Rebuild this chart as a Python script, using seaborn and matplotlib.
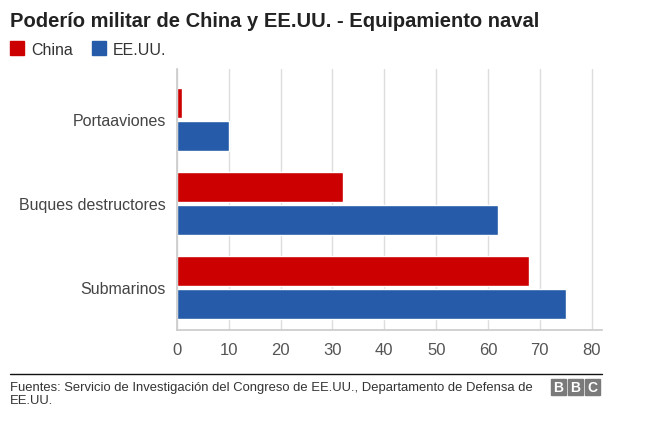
import numpy as np
import pandas as pd
import seaborn as sns
import matplotlib.pyplot as plt
from matplotlib.patches import Rectangle

# Datos
categorias = ["Portaaviones", "Buques destructores", "Submarinos"]
china = [1, 32, 68]
eeuu = [10, 62, 75]
paises = ["China", "EE.UU."]
colores = ["#CC0000", "#255BA8"]

df = pd.DataFrame({
    "categoria": categorias * 2,
    "valor": china + eeuu,
    "pais": [paises[0]] * 3 + [paises[1]] * 3,
})

sns.set_theme(style="white")
plt.rcParams['font.family'] = ['Liberation Sans', 'DejaVu Sans']

fig = plt.figure(figsize=(6.48, 4.27), dpi=100)
ax = fig.add_axes([177 / 648, 1 - 331 / 427, (602 - 177) / 648, (331 - 70) / 427])

sns.barplot(data=df, y="categoria", x="valor", hue="pais", order=categorias,
            hue_order=paises, palette=colores, orient="h", width=0.78, gap=0.08,
            saturation=1, ax=ax, legend=False)

ax.set_xlim(0, 82)
ax.set_ylim(2.51, -0.6)
ax.set_xticks(range(0, 81, 10))
ax.set_xlabel("")
ax.set_ylabel("")
ax.grid(axis="x", color="#dddddd", linewidth=1)
ax.set_axisbelow(True)
for s in ["top", "right"]:
    ax.spines[s].set_visible(False)
ax.spines["left"].set_color("#cccccc")
ax.spines["bottom"].set_color("#cccccc")
ax.tick_params(axis="x", length=5, color="#dddddd", labelsize=12, labelcolor="#555555", pad=4)
ax.tick_params(axis="y", length=0, labelsize=11.5, labelcolor="#444444", pad=8)

# Título y leyenda
fig.text(10 / 648, 1 - 27 / 427, "Poderío militar de China y EE.UU. - Equipamiento naval",
         fontsize=14.5, fontweight="bold", color="#222222", va="baseline")
leg_x = [10, 92]
for x0, nombre, c in zip(leg_x, paises, colores):
    fig.patches.append(Rectangle((x0 / 648, 1 - 56 / 427), 14 / 648, 14 / 427,
                                 transform=fig.transFigure, color=c))
    fig.text((x0 + 21) / 648, 1 - 55 / 427, nombre, fontsize=11.5, color="#333333",
             va="baseline")

# Pie
fig.add_artist(plt.Line2D([10 / 648, 602 / 648], [1 - 375 / 427] * 2, color="#111111", linewidth=1))
pie = ["Fuentes: Servicio de Investigación del Congreso de EE.UU., Departamento de Defensa de",
       "EE.UU."]
for k, linea in enumerate(pie):
    fig.text(10 / 648, 1 - (391 + 13 * k) / 427, linea, fontsize=9.4, color="#333333",
             va="baseline")
for i, letra in enumerate("BBC"):
    x0 = 551 + i * 17
    fig.patches.append(Rectangle((x0 / 648, 1 - 396 / 427), 15 / 648, 16 / 427,
                                 transform=fig.transFigure, color="#7a7a7a"))
    fig.text((x0 + 7.5) / 648, 1 - 388 / 427, letra, fontsize=10, fontweight="bold",
             color="white", ha="center", va="center")

fig.savefig("out.png", dpi=100, facecolor="white")
